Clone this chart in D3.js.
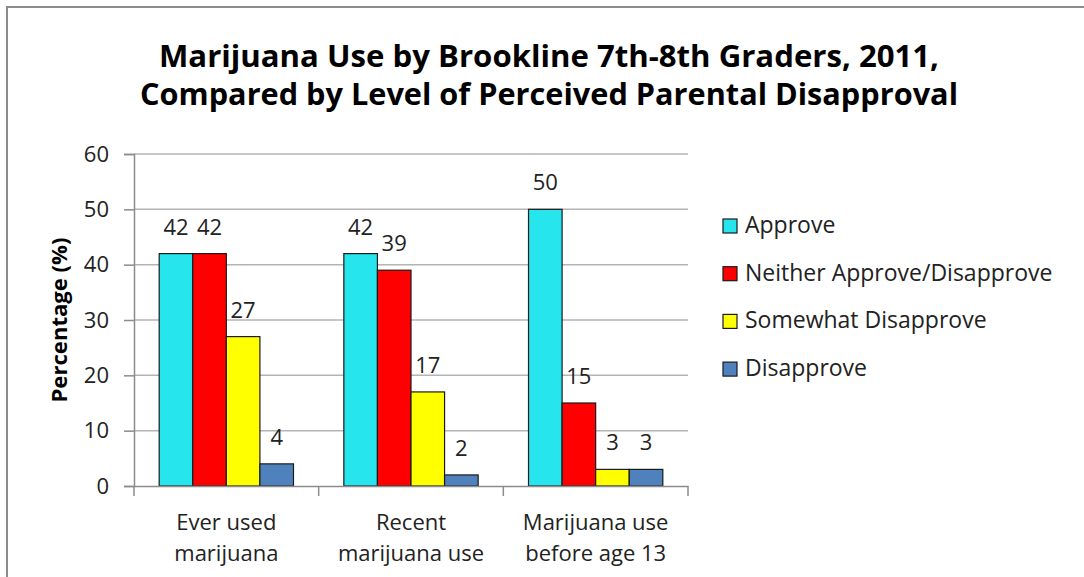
<!DOCTYPE html>
<html>
<head>
<meta charset="utf-8">
<script src="https://cdn.jsdelivr.net/npm/d3@7"></script>
<style>
  body { margin: 0; background: #fff; }
  svg { display: block; }
  text { font-family: "Open Sans", sans-serif; fill: #222; }
</style>
</head>
<body>
<svg width="1084" height="577"></svg>
<script>
var categories = [["Ever used", "marijuana"], ["Recent", "marijuana use"], ["Marijuana use", "before age 13"]];
var seriesNames = ["Approve", "Neither Approve/Disapprove", "Somewhat Disapprove", "Disapprove"];
var seriesColors = ["#26e5ec", "#ff0000", "#ffff00", "#4f81bd"];
var approve = [42, 42, 50];
var neither = [42, 39, 15];
var somewhat = [27, 17, 3];
var disapprove = [4, 2, 3];
var yTicks = [0, 10, 20, 30, 40, 50, 60];
var titleLines = ["Marijuana Use by Brookline 7th-8th Graders, 2011,", "Compared by Level of Perceived Parental Disapproval"];
var yLabel = "Percentage (%)";

var svg = d3.select("svg");
var allSeries = [approve, neither, somewhat, disapprove];

// chart frame (only top and left edges show)
svg.append("line").attr("x1", 6).attr("x2", 1084).attr("y1", 7).attr("y2", 7)
  .attr("stroke", "#8c8c8c").attr("stroke-width", 2);
svg.append("line").attr("x1", 7).attr("x2", 7).attr("y1", 6).attr("y2", 577)
  .attr("stroke", "#8c8c8c").attr("stroke-width", 2);

// title
var titleLen = [780, 818];
svg.selectAll(".title").data(titleLines).enter().append("text")
  .attr("class", "title")
  .attr("x", 549)
  .attr("y", function (d, i) { return 67 + i * 38; })
  .attr("text-anchor", "middle")
  .attr("font-weight", "bold")
  .attr("font-size", 30)
  .attr("textLength", function (d, i) { return titleLen[i]; })
  .attr("lengthAdjust", "spacingAndGlyphs")
  .style("fill", "#000")
  .text(function (d) { return d; });

// scales
var x0 = d3.scaleBand().domain(d3.range(categories.length)).range([134, 688]);
var x1 = d3.scaleBand().domain(d3.range(seriesNames.length))
  .range([0, x0.bandwidth()]).paddingInner(0).paddingOuter(0.75);
var y = d3.scaleLinear().domain([0, 60]).range([486, 154]);

// gridlines
svg.append("g").selectAll("line").data(yTicks.slice(1)).enter().append("line")
  .attr("x1", 134).attr("x2", 688)
  .attr("y1", function (d) { return y(d); }).attr("y2", function (d) { return y(d); })
  .attr("stroke", "#b4b4b4").attr("stroke-width", 1.5);

// y axis
var yAxis = d3.axisLeft(y).tickValues(yTicks).tickSize(10).tickPadding(15);
var yg = svg.append("g").attr("transform", "translate(134,0)").call(yAxis);
yg.select(".domain").attr("stroke", "#8c8c8c").attr("stroke-width", 1.5);
yg.selectAll(".tick line").attr("stroke", "#8c8c8c").attr("stroke-width", 1.5);
yg.selectAll(".tick text").attr("font-size", 22).attr("font-family", "Open Sans").style("fill", "#222");

svg.append("text")
  .attr("transform", "translate(67,320) rotate(-90)")
  .attr("text-anchor", "middle")
  .attr("font-weight", "bold")
  .attr("font-size", 22)
  .attr("textLength", 165)
  .attr("lengthAdjust", "spacingAndGlyphs")
  .style("fill", "#000")
  .text(yLabel);

// bars
var groups = svg.append("g").selectAll("g").data(categories).enter().append("g")
  .attr("transform", function (d, i) { return "translate(" + x0(i) + ",0)"; });

groups.selectAll("rect").data(function (d, i) {
    return allSeries.map(function (s, k) { return { k: k, v: s[i] }; });
  }).enter().append("rect")
  .attr("x", function (d) { return x1(d.k); })
  .attr("y", function (d) { return y(d.v); })
  .attr("width", x1.bandwidth())
  .attr("height", function (d) { return y(0) - y(d.v); })
  .attr("fill", function (d) { return seriesColors[d.k]; })
  .attr("stroke", "#1a1a1a").attr("stroke-width", 1.2);

groups.selectAll(".lbl").data(function (d, i) {
    return allSeries.map(function (s, k) { return { k: k, v: s[i] }; });
  }).enter().append("text")
  .attr("class", "lbl")
  .attr("x", function (d) { return x1(d.k) + x1.bandwidth() / 2; })
  .attr("y", function (d) { return y(d.v) - 19; })
  .attr("text-anchor", "middle")
  .attr("font-size", 22)
  .text(function (d) { return d.v; });

// x axis
var xAxis = d3.axisBottom(x0).tickValues([]).tickSizeOuter(0);
var xg = svg.append("g").attr("transform", "translate(0,486)").call(xAxis);
xg.select(".domain").attr("stroke", "#8c8c8c").attr("stroke-width", 1.5);
var seps = [134, 688].concat(d3.range(1, categories.length).map(function (i) { return x0(i); }));
xg.selectAll(".sep").data(seps).enter().append("line")
  .attr("x1", function (d) { return d; }).attr("x2", function (d) { return d; })
  .attr("y1", 0).attr("y2", 10)
  .attr("stroke", "#8c8c8c").attr("stroke-width", 1.5);

var xl = svg.append("g").selectAll("text").data(categories).enter().append("text")
  .attr("x", function (d, i) { return x0(i) + x0.bandwidth() / 2; })
  .attr("y", 530)
  .attr("text-anchor", "middle")
  .attr("font-size", 22);
xl.selectAll("tspan").data(function (d) { return d; }).enter().append("tspan")
  .attr("x", function () { return d3.select(this.parentNode).attr("x"); })
  .attr("dy", function (d, i) { return i === 0 ? 0 : 31; })
  .text(function (d) { return d; });

// legend
var legend = svg.append("g").selectAll("g").data(seriesNames).enter().append("g")
  .attr("transform", function (d, i) { return "translate(723," + (233 + i * 47.7) + ")"; });
legend.append("rect")
  .attr("x", 0).attr("y", -14).attr("width", 14).attr("height", 14)
  .attr("fill", function (d, i) { return seriesColors[i]; })
  .attr("stroke", "#1a1a1a").attr("stroke-width", 1.2);
legend.append("text")
  .attr("x", 22).attr("y", 0)
  .attr("font-size", 23)
  .text(function (d) { return d; });
</script>
</body>
</html>
